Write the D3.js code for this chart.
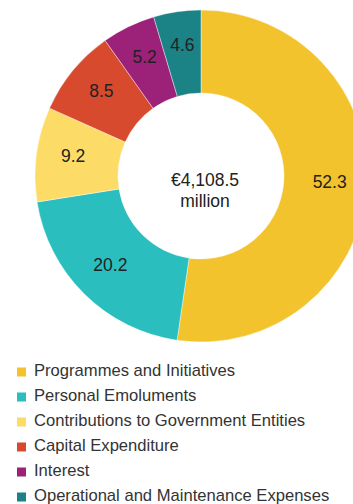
<!DOCTYPE html>
<html>
<head>
<meta charset="utf-8">
<script src="https://cdn.jsdelivr.net/npm/d3@7"></script>
<style>
  html, body { margin: 0; padding: 0; background: #fff; }
  svg { display: block; }
  text { font-family: "Liberation Sans", Arial, Helvetica, sans-serif; }
</style>
</head>
<body>
<svg id="chart" width="353" height="504"></svg>
<script>
// Expenditure shares (%), in drawing order clockwise from 12 o'clock
const categories = [
  "Programmes and Initiatives",
  "Personal Emoluments",
  "Contributions to Government Entities",
  "Capital Expenditure",
  "Interest",
  "Operational and Maintenance Expenses"
];
const shares = [52.3, 20.2, 9.2, 8.5, 5.2, 4.6];
const colours = ["#F2C32C", "#2ABFBE", "#FCDC66", "#D84A2E", "#9C2178", "#1B8286"];
const totalLines = ["€4,108.5", "million"];

const svg = d3.select("#chart");
const cx = 201, cy = 176, outerR = 166, innerR = 83;

const data = categories.map((c, i) => ({ name: c, value: shares[i], colour: colours[i] }));

const pie = d3.pie().value(d => d.value).sort(null);
const arc = d3.arc().innerRadius(innerR).outerRadius(outerR);
const labelArc = d3.arc().innerRadius(129).outerRadius(129);

const g = svg.append("g").attr("transform", `translate(${cx},${cy})`);
const arcs = pie(data);

g.selectAll("path.slice")
  .data(arcs)
  .join("path")
  .attr("class", "slice")
  .attr("d", arc)
  .attr("fill", d => d.data.colour)
  .attr("stroke", "#fff")
  .attr("stroke-width", 0.4);

g.selectAll("text.value")
  .data(arcs)
  .join("text")
  .attr("class", "value")
  .attr("transform", d => {
    const [x, y] = labelArc.centroid(d);
    return `translate(${x},${y - 3})`;
  })
  .attr("text-anchor", "middle")
  .attr("dominant-baseline", "central")
  .attr("font-size", 17.5)
  .attr("fill", "#222")
  .text(d => d.data.value.toFixed(1));

// Total in the hole
g.selectAll("text.total")
  .data(totalLines)
  .join("text")
  .attr("class", "total")
  .attr("x", 4)
  .attr("y", (d, i) => 9.5 + i * 21)
  .attr("text-anchor", "middle")
  .attr("font-size", 17.5)
  .attr("fill", "#222")
  .text(d => d);

// Legend
const legend = svg.append("g").attr("transform", "translate(17,376)");
const rows = legend.selectAll("g.row")
  .data(data)
  .join("g")
  .attr("class", "row")
  .attr("transform", (d, i) => `translate(0,${i * 25})`);

rows.append("rect")
  .attr("x", 0)
  .attr("y", -8.5)
  .attr("width", 9)
  .attr("height", 9)
  .attr("fill", d => d.colour);

rows.append("text")
  .attr("x", 17)
  .attr("y", 0)
  .attr("font-size", 16.6)
  .attr("fill", "#333")
  .text(d => d.name);
</script>
</body>
</html>
